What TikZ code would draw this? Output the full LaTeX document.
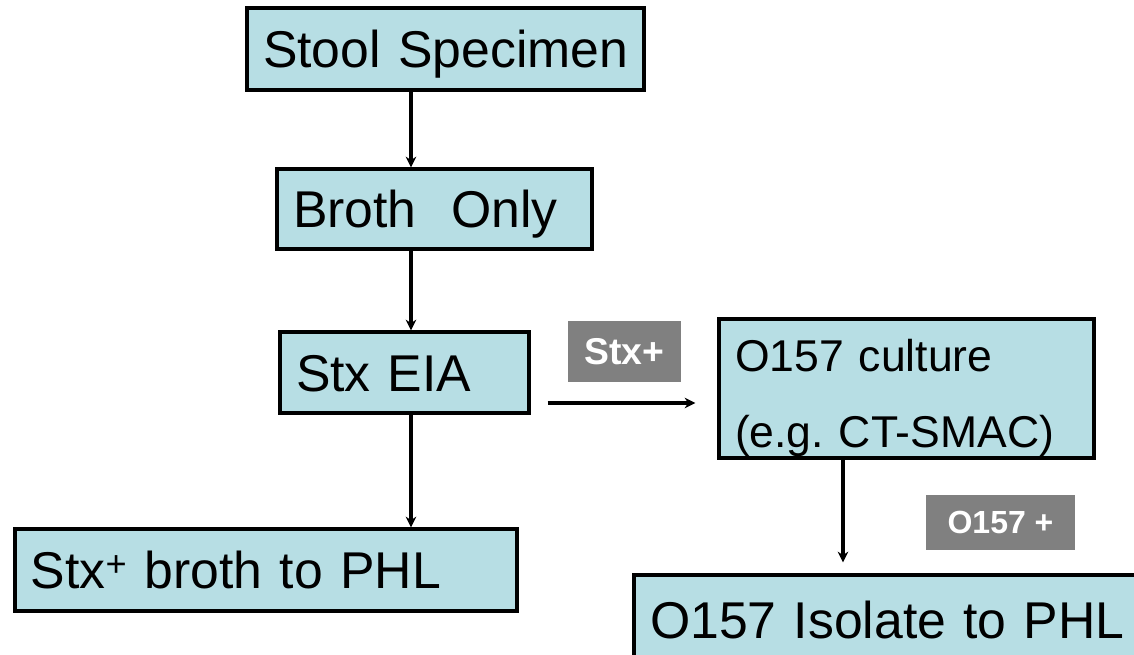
\documentclass[tikz,border=0pt]{standalone}
\usepackage{fontspec}
\setmainfont{Liberation Sans}
\usepackage{tikz}
\usetikzlibrary{arrows.meta}
\usepackage{xcolor}
\definecolor{boxblue}{RGB}{183,222,228}
\definecolor{labgray}{RGB}{128,128,128}

\begin{document}
\begin{tikzpicture}[
  x=0.75pt, y=-0.75pt,
  box/.style={draw=black, line width=2.5pt, fill=boxblue, align=left, inner xsep=12pt, inner ysep=0pt,
    text height=28pt, text depth=0pt, font=\fontsize{38.8}{46}\selectfont},
  tag/.style={fill=labgray, text=white, inner sep=0pt},
  flow/.style={line width=3.5pt, -{Stealth[length=8pt,width=8pt]}}
]
\useasboundingbox (0,0) rectangle (1134,655);
\node[box, text width=273.75pt, minimum height=61.5pt] (stool) at (445.5,49) {\mbox{Stool Specimen}};
\node[box, text width=212.25pt, minimum height=60pt] (broth) at (434.5,209) {\mbox{Broth\ \ Only}};
\node[box, text width=162.75pt, minimum height=60.75pt] (eia) at (404.5,372.5) {\mbox{Stx EIA}};
\node[box, text width=352.5pt, minimum height=61.5pt] (brothphl) at (266,570) {\mbox{Stx\textsuperscript{+} broth to PHL}};
\node[box, text width=257.25pt, minimum height=104.25pt, text height=24pt, text depth=48.75pt,
  font=\fontsize{33.4}{57}\selectfont] (culture) at (906.5,388.5) {\mbox{O157 culture}\\\mbox{(e.g.\ CT-SMAC)}};
\node[box, text width=363pt, minimum height=67.5pt] (isolate) at (892,620) {\mbox{O157 Isolate to PHL}};
\node[tag, minimum width=84.75pt, minimum height=45.75pt, font=\fontsize{28}{32}\bfseries] (stxlab) at (624.5,351.5) {Stx+};
\node[tag, minimum width=111.75pt, minimum height=41.25pt, font=\fontsize{24}{28}\bfseries] (o157lab) at (1000.5,522.5) {O157 +};
\coordinate (spine) at (411,0);
\coordinate (hline) at (0,403);
\coordinate (drop) at (843,0);
\draw[flow] (stool.south -| spine) -- (broth.north -| spine);
\draw[flow] (broth.south -| spine) -- (eia.north -| spine);
\draw[flow] (eia.south -| spine) -- (brothphl.north -| spine);
\draw[flow, shorten <=12.75pt, shorten >=16.5pt] (eia.east |- hline) -- (culture.west |- hline);
\draw[flow, line width=2.5pt, shorten >=8.25pt] (culture.south -| drop) -- (isolate.north -| drop);
\end{tikzpicture}
\end{document}
